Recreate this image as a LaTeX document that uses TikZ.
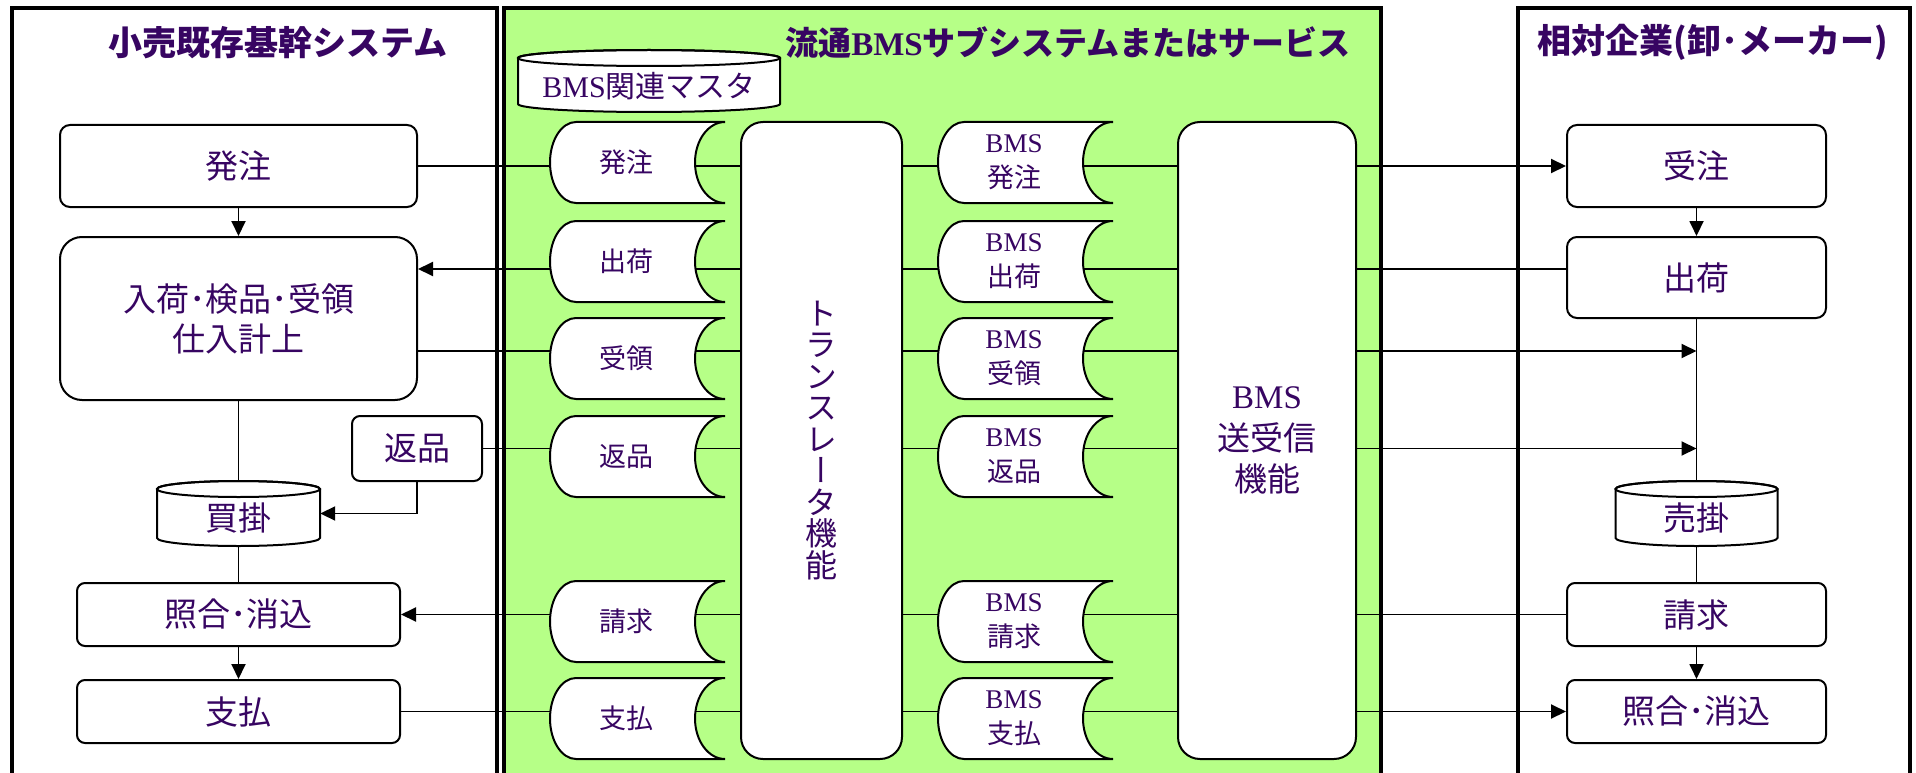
\documentclass[tikz,border=0pt]{standalone}
\usepackage{fontspec}
\setmainfont{Liberation Serif}
\newfontfamily\jp{Noto Sans CJK JP}
\newfontfamily\jpv{Noto Sans CJK JP}[RawFeature=+vert]
\usetikzlibrary{arrows.meta,calc}
\definecolor{gr}{RGB}{182,255,135}
\definecolor{tx}{RGB}{55,5,98}
\pgfdeclarelayer{panels}
\pgfdeclarelayer{conns}
\pgfsetlayers{panels,conns,main}
\newcommand\shiftdown[2]{\raisebox{-#1}[\height][\depth]{#2}}
\tikzset{
  panel/.style={line width=4pt},
  proc/.style={draw=black, line width=2pt, fill=white, rounded corners=10pt, inner sep=0pt,
    text=tx, font=\jp\fontsize{33}{40}\selectfont, align=center},
  bigproc/.style={proc, rounded corners=22pt},
  cyl/.style={inner sep=0pt, text=tx, font=\jp\fontsize{33}{40}\selectfont,
    path picture={
      \draw[line width=2pt, fill=white]
        let \p1=(path picture bounding box.north west), \p2=(path picture bounding box.south east) in
        (\x1+2pt,\y1-10pt) -- (\x1+2pt,\y2+10pt)
        arc[start angle=180, end angle=360, x radius={(\x2-\x1)/2-2pt}, y radius=8pt]
        -- (\x2-2pt,\y1-10pt)
        arc[start angle=0, end angle=180, x radius={(\x2-\x1)/2-2pt}, y radius=8pt] -- cycle;
      \draw[line width=2pt]
        let \p1=(path picture bounding box.north west), \p2=(path picture bounding box.south east) in
        ({(\x1+\x2)/2},\y1-10pt) ellipse[x radius={(\x2-\x1)/2-2pt}, y radius=8pt];
    }},
  docshape/.style={inner sep=0pt, minimum width=202pt, minimum height=85pt, text=tx,
    font=\jp\fontsize{27}{35}\selectfont, align=center,
    path picture={
      \draw[line width=2pt, fill=white]
        let \p1=(path picture bounding box.north west), \p2=(path picture bounding box.south east) in
        (\x2-151pt,\y1-2pt) -- (\x2-2pt,\y1-2pt)
        arc[start angle=90, end angle=270, x radius=30pt, y radius={(\y1-\y2)/2-2pt}]
        -- (\x2-151pt,\y2+2pt)
        arc[start angle=270, end angle=90, x radius=26pt, y radius={(\y1-\y2)/2-2pt}] -- cycle;
    }},
  title/.style={text=tx, inner sep=0pt, font=\jp\bfseries\fontsize{34}{40}\selectfont},
  conn/.style={line width=1.9pt},
  ar/.style={conn, -{Triangle[length=15pt,width=14pt]}}
}
\begin{document}
\begin{tikzpicture}[x=1pt,y=-1pt]
\useasboundingbox (0,0) rectangle (1916,773);

% titles
\node[title] (t1) at (278,42.5) {小売既存基幹システム};
\node[title, font=\jp\bfseries\fontsize{33}{40}\selectfont] (t2) at (1068,42.5) {流通{\rmfamily BMS}サブシステムまたはサービス};
\node[title] (t3) at (1712.5,42.5) {相対企業(卸･メーカー)};

% left system
\node[proc, minimum width=357pt, minimum height=82pt] (hatchuL) at (238.5,166) {発注};
\node[bigproc, minimum width=357pt, minimum height=163pt] (nyukaL) at (238.5,318.5) {入荷･検品･受領\\仕入計上};
\node[proc, rounded corners=8pt, minimum width=130pt, minimum height=65pt] (henpinL) at (417,448.5) {返品};
\node[cyl, minimum width=167pt, minimum height=69pt] (kaikake) at (238.5,513.5) {\shiftdown{4.5pt}{買掛}};
\node[proc, rounded corners=8pt, minimum width=323pt, minimum height=63pt] (shogoL) at (238.5,614.5) {照合･消込};
\node[proc, rounded corners=8pt, minimum width=323pt, minimum height=63pt] (shiharaiL) at (238.5,711.5) {支払};

% BMS subsystem
\node[cyl, minimum width=266pt, minimum height=66pt, font=\jp\fontsize{30}{36}\selectfont] (master) at (649,81) {\shiftdown{5pt}{{\rmfamily BMS}関連マスタ}};
\node[docshape] (dA1) at (626,162.5) {発注};
\node[docshape] (dA2) at (626,261.5) {出荷};
\node[docshape] (dA3) at (626,358.5) {受領};
\node[docshape] (dA4) at (626,456.5) {返品};
\node[docshape] (dA5) at (626,621.5) {請求};
\node[docshape] (dA6) at (626,718.5) {支払};
\node[bigproc, minimum width=161pt, minimum height=637pt, font=\jpv\fontsize{32}{31.5}\selectfont] (trans) at (821.5,440.5) {ト\\ラ\\ン\\ス\\レ\\ー\\タ\\機\\能};
\node[docshape] (dB1) at (1014,162.5) {{\rmfamily BMS}\\発注};
\node[docshape] (dB2) at (1014,261.5) {{\rmfamily BMS}\\出荷};
\node[docshape] (dB3) at (1014,358.5) {{\rmfamily BMS}\\受領};
\node[docshape] (dB4) at (1014,456.5) {{\rmfamily BMS}\\返品};
\node[docshape] (dB5) at (1014,621.5) {{\rmfamily BMS}\\請求};
\node[docshape] (dB6) at (1014,718.5) {{\rmfamily BMS}\\支払};
\node[bigproc, minimum width=178pt, minimum height=637pt, font=\jp\fontsize{33}{41.5}\selectfont] (bmsbox) at (1267,440.5) {{\rmfamily BMS}\\送受信\\機能};

% partner
\node[proc, minimum width=259pt, minimum height=82pt] (juchu) at (1696.5,166) {受注};
\node[proc, minimum width=259pt, minimum height=81pt] (shukaR) at (1696.5,277.5) {出荷};
\node[cyl, minimum width=166pt, minimum height=69pt] (urikake) at (1696.5,513.5) {\shiftdown{4.5pt}{売掛}};
\node[proc, rounded corners=8pt, minimum width=259pt, minimum height=63pt] (seikyuR) at (1696.5,614.5) {請求};
\node[proc, rounded corners=8pt, minimum width=259pt, minimum height=63pt] (shogoR) at (1696.5,711.5) {照合･消込};

\coordinate (y2) at (0,269);
\coordinate (y3) at (0,351);

\begin{pgfonlayer}{panels}
  \draw[panel, fill=white] (11.5,8.5) rectangle (497,800);
  \draw[panel, fill=gr] (503.5,8.5) rectangle (1380.5,800);
  \draw[panel, fill=white] (1517.5,8.5) rectangle (1910,800);
\end{pgfonlayer}

\begin{pgfonlayer}{conns}
  \draw[ar] (hatchuL.east) -- (juchu.west);
  \draw[ar] (shukaR.west |- y2) -- (nyukaL.east |- y2);
  \draw[ar] (nyukaL.east |- y3) -- (shukaR.south |- y3);
  \draw[ar] (henpinL.east) -- (shukaR.south |- henpinL.east);
  \draw[ar] (seikyuR.west) -- (shogoL.east);
  \draw[ar] (shiharaiL.east) -- (shogoR.west);
  \draw[ar] (hatchuL.south) -- (nyukaL.north);
  \draw[conn] (nyukaL.south) -- (kaikake.center);
  \draw[ar] (henpinL.south) |- ([xshift=-2pt]kaikake.east);
  \draw[conn] (kaikake.center) -- (shogoL.north);
  \draw[ar] (shogoL.south) -- (shiharaiL.north);
  \draw[ar] (juchu.south) -- (shukaR.north);
  \draw[conn] (shukaR.south) -- (urikake.center);
  \draw[conn] (urikake.center) -- (seikyuR.north);
  \draw[ar] (seikyuR.south) -- (shogoR.north);
\end{pgfonlayer}
\end{tikzpicture}
\end{document}
